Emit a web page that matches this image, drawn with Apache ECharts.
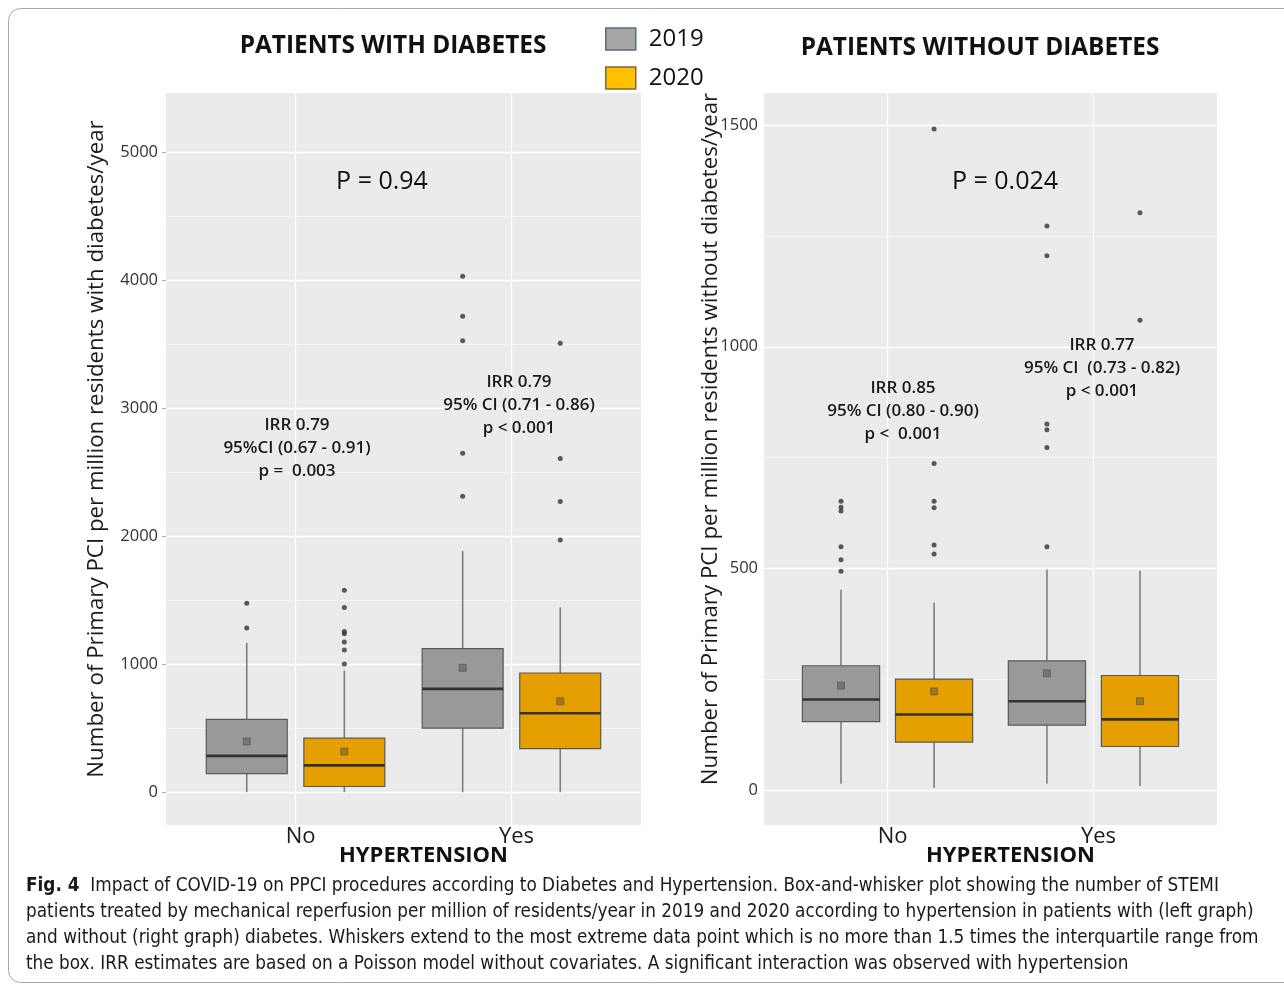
<!DOCTYPE html>
<html>
<head>
<meta charset="utf-8">
<script src="https://cdn.jsdelivr.net/npm/echarts@6/dist/echarts.min.js"></script>
<style>html,body{margin:0;padding:0;background:#fff;}#c{width:1284px;height:985px;}</style>
</head>
<body>
<div id="c"></div>
<script>
const categories = ['No', 'Yes'];
const years = ['2019', '2020'];
// box stats per category: [lower whisker, Q1, median, Q3, upper whisker]
const diabBox2019 = [[0, 146, 284, 569, 1168], [0, 501, 808, 1123, 1886]];
const diabBox2020 = [[0, 45, 210, 423, 951], [0, 341, 618, 932, 1445]];
const diabMean2019 = [397, 973];
const diabMean2020 = [318, 711];
const diabOut2019 = [[1478, 1284], [4034, 3720, 3529, 2650, 2313]];
const diabOut2020 = [[1579, 1445, 1257, 1239, 1175, 1112, 1003], [3510, 2609, 2272, 1972]];

const noDiabBox2019 = [[15, 155, 205, 281, 452], [15, 147, 201, 292, 498]];
const noDiabBox2020 = [[6, 109, 171, 251, 423], [10, 99, 160, 259, 495]];
const noDiabMean2019 = [236, 264];
const noDiabMean2020 = [223, 201];
const noDiabOut2019 = [[652, 638, 630, 549, 520, 494], [1272, 1205, 826, 813, 773, 549]];
const noDiabOut2020 = [[1491, 737, 652, 637, 553, 533], [1302, 1060]];

const leftTicks = [0, 1000, 2000, 3000, 4000, 5000];
const leftMinor = [500, 1500, 2500, 3500, 4500];
const rightTicks = [0, 500, 1000, 1500];
const rightMinor = [250, 750, 1250];

const DODGE = 0.226, BOX_W = 0.375;
const COL = { '2019': '#999999', '2020': '#e69f00' };
const FONT = 'Open Sans';

function xPos(ci, yi) { return ci + 1 + (yi === 0 ? -DODGE : DODGE); }
function boxData(stats, yi) { return stats.map((s, ci) => [xPos(ci, yi)].concat(s)); }
function pointData(vals, yi) { return vals.map((v, ci) => [xPos(ci, yi), v]); }
function outData(lists, yi) {
  const r = [];
  lists.forEach((l, ci) => l.forEach(v => r.push([xPos(ci, yi), v])));
  return r;
}
function renderBox(fill) {
  return function (params, api) {
    const x = api.value(0);
    const lo = api.coord([x, api.value(1)]);
    const q1 = api.coord([x, api.value(2)]);
    const md = api.coord([x, api.value(3)]);
    const q3 = api.coord([x, api.value(4)]);
    const hi = api.coord([x, api.value(5)]);
    const half = api.size([BOX_W, 0])[0] / 2;
    const wStyle = { stroke: '#7f7f7f', lineWidth: 1.6 };
    return {
      type: 'group',
      children: [
        { type: 'line', shape: { x1: hi[0], y1: hi[1], x2: q3[0], y2: q3[1] }, style: wStyle },
        { type: 'line', shape: { x1: q1[0], y1: q1[1], x2: lo[0], y2: lo[1] }, style: wStyle },
        { type: 'rect', shape: { x: q3[0] - half, y: q3[1], width: 2 * half, height: q1[1] - q3[1] },
          style: { fill: fill, stroke: '#5a5a5a', lineWidth: 1.2 } },
        { type: 'line', shape: { x1: md[0] - half, y1: md[1], x2: md[0] + half, y2: md[1] },
          style: { stroke: '#333333', lineWidth: 2.6 } }
      ]
    };
  };
}
function panelSeries(idx, boxes, means, outs, minor) {
  const s = [];
  boxes.forEach((b, yi) => {
    s.push({
      type: 'custom', name: years[yi], xAxisIndex: idx, yAxisIndex: idx,
      itemStyle: { color: COL[years[yi]] },
      renderItem: renderBox(COL[years[yi]]),
      encode: { x: 0, y: [1, 2, 3, 4, 5] },
      data: boxData(b, yi), z: 3,
      markLine: yi === 0 ? {
        silent: true, symbol: 'none', label: { show: false },
        lineStyle: { color: '#ffffff', width: 0.7, type: 'solid', opacity: 0.8 },
        data: minor.map(v => ({ yAxis: v })), z: 1
      } : undefined
    });
    s.push({
      type: 'scatter', xAxisIndex: idx, yAxisIndex: idx, symbol: 'rect', symbolSize: 7,
      itemStyle: { color: 'rgba(70,70,70,0.55)', borderColor: 'rgba(60,60,60,0.7)', borderWidth: 0.8 },
      data: pointData(means[yi], yi), z: 5, silent: true
    });
    s.push({
      type: 'scatter', xAxisIndex: idx, yAxisIndex: idx, symbol: 'circle', symbolSize: 5,
      itemStyle: { color: '#333333' },
      data: outData(outs[yi], yi), z: 5, silent: true
    });
  });
  return s;
}
function xAxisCfg(idx) {
  return {
    type: 'value', gridIndex: idx, min: 0.4, max: 2.6,
    axisLine: { show: false },
    axisTick: { show: false, customValues: [1, 2] },
    axisLabel: { customValues: [1, 2], formatter: v => categories[Math.round(v) - 1],
      fontSize: 22, color: '#1a1a1a', fontFamily: FONT, margin: 1, padding: [0, 0, 0, 10] },
    splitLine: { show: true, lineStyle: { color: '#ffffff', width: 1.3 } },
    name: 'HYPERTENSION', nameLocation: 'middle', nameGap: 20, nameMoveOverlap: false,
    nameTextStyle: { fontSize: 22, fontWeight: 'bold', color: '#111', fontFamily: FONT, padding: [0, 0, 0, 40] }
  };
}
function yAxisCfg(idx, min, max, ticks, margin, showTick) {
  return {
    type: 'value', gridIndex: idx, min: min, max: max,
    axisLine: { show: false },
    axisTick: { show: showTick, customValues: ticks, length: 4, lineStyle: { color: '#b0b0b0' } },
    axisLabel: { customValues: ticks, formatter: v => String(v), fontSize: 16.5, color: '#333', fontFamily: FONT, margin: margin },
    splitLine: { show: true, lineStyle: { color: '#ffffff', width: 1.3 } }
  };
}

const chart = echarts.init(document.getElementById('c'), null, { renderer: 'canvas' });
const annFont = '600 17px "Open Sans"';
const capFont = '18.8px "Liberation Sans Narrow", "DejaVu Sans Condensed", sans-serif';
const yNameFont = '22.3px "Open Sans"';
chart.setOption({
  backgroundColor: '#ffffff',
  animation: false,
  textStyle: { fontFamily: FONT },
  legend: {
    left: 600, top: 22, orient: 'vertical', itemWidth: 30, itemHeight: 22, itemGap: 15,
    icon: 'rect',
    textStyle: { fontSize: 24, color: '#111', fontFamily: FONT, padding: [0, 0, 0, 8] },
    data: [
      { name: '2019', itemStyle: { color: '#a6a6a6', borderColor: '#5b6b82', borderWidth: 1.5 } },
      { name: '2020', itemStyle: { color: '#ffc000', borderColor: '#7a6a3a', borderWidth: 1.5 } }
    ]
  },
  grid: [
    { left: 166, right: 643, top: 93, bottom: 160, show: true, backgroundColor: '#ebebeb', borderWidth: 0 },
    { left: 764, right: 67, top: 93, bottom: 160, show: true, backgroundColor: '#ebebeb', borderWidth: 0 }
  ],
  xAxis: [xAxisCfg(0), xAxisCfg(1)],
  yAxis: [
    yAxisCfg(0, -256, 5466, leftTicks, 8, true),
    yAxisCfg(1, -78, 1572, rightTicks, 6, false)
  ],
  series: [].concat(
    panelSeries(0, [diabBox2019, diabBox2020], [diabMean2019, diabMean2020], [diabOut2019, diabOut2020], leftMinor),
    panelSeries(1, [noDiabBox2019, noDiabBox2020], [noDiabMean2019, noDiabMean2020], [noDiabOut2019, noDiabOut2020], rightMinor)
  ),
  graphic: [
    { type: 'rect', shape: { x: 8.5, y: 8.5, width: 1300, height: 974, r: 12 }, style: { fill: 'none', stroke: '#a8a8a8', lineWidth: 1 }, silent: true },
    { type: 'text', style: { text: 'PATIENTS WITH DIABETES', x: 393, y: 46, textAlign: 'center', textVerticalAlign: 'middle', font: 'bold 24.4px "Open Sans"', fill: '#111' } },
    { type: 'text', style: { text: 'PATIENTS WITHOUT DIABETES', x: 980, y: 48, textAlign: 'center', textVerticalAlign: 'middle', font: 'bold 24.4px "Open Sans"', fill: '#111' } },
    { type: 'text', x: 97, y: 449, rotation: Math.PI / 2, style: { text: 'Number of Primary PCI per million residents with diabetes/year', x: 0, y: 0, textAlign: 'center', textVerticalAlign: 'middle', font: yNameFont, fill: '#1a1a1a' } },
    { type: 'text', x: 711, y: 439, rotation: Math.PI / 2, style: { text: 'Number of Primary PCI per million residents without diabetes/year', x: 0, y: 0, textAlign: 'center', textVerticalAlign: 'middle', font: yNameFont, fill: '#1a1a1a' } },
    { type: 'text', z: 10, style: { text: 'P = 0.94', x: 382, y: 182, textAlign: 'center', textVerticalAlign: 'middle', font: '25px "Open Sans"', fill: '#111' } },
    { type: 'text', z: 10, style: { text: 'P = 0.024', x: 1005, y: 182, textAlign: 'center', textVerticalAlign: 'middle', font: '25px "Open Sans"', fill: '#111' } },
    { type: 'text', z: 10, style: { text: 'IRR 0.79\n95%CI (0.67 - 0.91)\np =  0.003', x: 297, y: 448, textAlign: 'center', textVerticalAlign: 'middle', font: annFont, lineHeight: 23, fill: '#1a1a1a' } },
    { type: 'text', z: 10, style: { text: 'IRR 0.79\n95% CI (0.71 - 0.86)\np < 0.001', x: 519, y: 405, textAlign: 'center', textVerticalAlign: 'middle', font: annFont, lineHeight: 23, fill: '#1a1a1a' } },
    { type: 'text', z: 10, style: { text: 'IRR 0.85\n95% CI (0.80 - 0.90)\np <  0.001', x: 903, y: 411, textAlign: 'center', textVerticalAlign: 'middle', font: annFont, lineHeight: 23, fill: '#1a1a1a' } },
    { type: 'text', z: 10, style: { text: 'IRR 0.77\n95% CI  (0.73 - 0.82)\np < 0.001', x: 1102, y: 368, textAlign: 'center', textVerticalAlign: 'middle', font: annFont, lineHeight: 23, fill: '#1a1a1a' } },
    { type: 'text', z: 10, style: {
        x: 26, y: 873, textAlign: 'left', textVerticalAlign: 'top',
        text: '{b|Fig. 4}{n|  Impact of COVID-19 on PPCI procedures according to Diabetes and Hypertension. Box-and-whisker plot showing the number of STEMI}\n' +
              '{n|patients treated by mechanical reperfusion per million of residents/year in 2019 and 2020 according to hypertension in patients with (left graph)}\n' +
              '{n|and without (right graph) diabetes. Whiskers extend to the most extreme data point which is no more than 1.5 times the interquartile range from}\n' +
              '{n|the box. IRR estimates are based on a Poisson model without covariates. A significant interaction was observed with hypertension}',
        rich: {
          b: { font: 'bold ' + capFont, fill: '#1a1a1a', lineHeight: 26 },
          n: { font: capFont, fill: '#1a1a1a', lineHeight: 26 }
        }
      } }
  ]
});
</script>
</body>
</html>
